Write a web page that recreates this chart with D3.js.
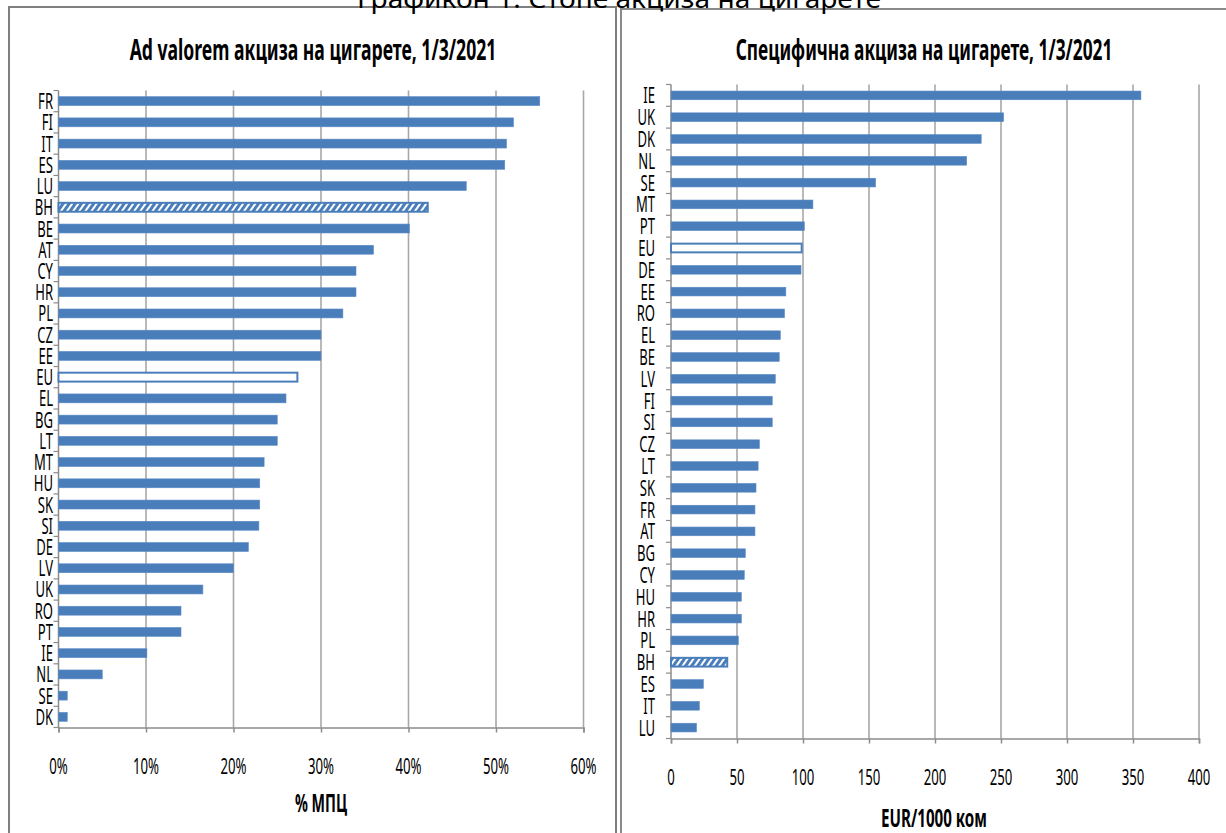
<!DOCTYPE html>
<html>
<head>
<meta charset="utf-8">
<script src="https://cdn.jsdelivr.net/npm/d3@7"></script>
<style>
  body { margin: 0; background: #fff; }
  svg { display: block; }
</style>
</head>
<body>
<div id="chart"></div>
<script>
// data
var leftCats = ["FR","FI","IT","ES","LU","BH","BE","AT","CY","HR","PL","CZ","EE","EU","EL",
                "BG","LT","MT","HU","SK","SI","DE","LV","UK","RO","PT","IE","NL","SE","DK"];
var leftVals = [55, 52, 51.2, 51, 46.6, 42.2, 40.1, 36, 34, 34, 32.5, 30, 30, 27.3, 26,
                25, 25, 23.5, 23, 23, 22.9, 21.7, 20, 16.5, 14, 14, 10.1, 5, 1, 1];
var leftTicks = [0, 10, 20, 30, 40, 50, 60];

var rightCats = ["IE","UK","DK","NL","SE","MT","PT","EU","DE","EE","RO","EL","BE","LV","FI",
                 "SI","CZ","LT","SK","FR","AT","BG","CY","HU","HR","PL","BH","ES","IT","LU"];
var rightVals = [356, 252, 235, 224, 155, 107.5, 101, 99, 98.5, 87, 86, 82.8, 82, 79, 76.7,
                 76.7, 67, 66, 64.4, 63.6, 63.6, 56.3, 55.5, 53.3, 53.3, 51, 42.6, 24.5, 21.5, 19.3];
var rightTicks = [0, 50, 100, 150, 200, 250, 300, 350, 400];

var caption = "Графикон 1: Стопе акциза на цигарете";
var leftTitle = "Ad valorem акциза на цигарете, 1/3/2021";
var rightTitle = "Специфична акциза на цигарете, 1/3/2021";
var leftAxisTitle = "% МПЦ";
var rightAxisTitle = "EUR/1000 ком";

var width = 1226, height = 833;
var blue = "#4a7ebb";
var font = "'Noto Sans', 'DejaVu Sans', sans-serif";

var svg = d3.select("#chart").append("svg")
    .attr("width", width)
    .attr("height", height);

// hatch for BH
var defs = svg.append("defs");
var pat = defs.append("pattern")
    .attr("id", "hatch")
    .attr("patternUnits", "userSpaceOnUse")
    .attr("width", 5).attr("height", 5)
    .attr("patternTransform", "rotate(35)");
pat.append("rect").attr("width", 5).attr("height", 5).attr("fill", blue);
pat.append("rect").attr("width", 2).attr("height", 5).attr("fill", "#fff");

// narrow text: the original font is very condensed
function label(parent, x, y, str, size, weight, anchor, sx, fitWidth) {
    var g = parent.append("g");
    var t = g.append("text")
        .attr("font-family", font)
        .attr("font-size", size)
        .attr("font-weight", weight)
        .attr("text-anchor", anchor)
        .attr("fill", "#000")
        .text(str);
    if (fitWidth) sx = fitWidth / t.node().getComputedTextLength();
    g.attr("transform", `translate(${x},${y}) scale(${sx},1)`);
    return g;
}

// panel frames
svg.append("rect").attr("x", 9).attr("y", 7).attr("width", 607).attr("height", 840)
    .attr("fill", "#fff").attr("stroke", "#7f7f7f").attr("stroke-width", 2);
svg.append("rect").attr("x", 621).attr("y", 9).attr("width", 620).attr("height", 840)
    .attr("fill", "#fff").attr("stroke", "#8a8a8a").attr("stroke-width", 2);

// caption (cut off at the top of the picture)
label(svg, 619, 8, caption, 26, "normal", "middle", 1, 524);

function drawPanel(cfg) {
    var x = d3.scaleLinear().domain(cfg.domain).range([cfg.x0, cfg.x1]);
    var y = d3.scaleBand().domain(cfg.cats).range([cfg.top, cfg.bottom])
        .paddingInner(cfg.pad).paddingOuter(cfg.pad / 2);
    var g = svg.append("g");

    // gridlines
    g.selectAll("line.grid").data(cfg.ticks.slice(1)).enter().append("line")
        .attr("x1", d => x(d)).attr("x2", d => x(d))
        .attr("y1", cfg.top).attr("y2", cfg.bottom)
        .attr("stroke", "#a8a8a8").attr("stroke-width", 1.6);

    // x axis
    var xAxis = d3.axisBottom(x).tickValues(cfg.ticks).tickFormat(cfg.fmt).tickSize(5);
    var ax = g.append("g").attr("transform", `translate(0,${cfg.bottom})`).call(xAxis);
    ax.select(".domain").attr("stroke", "#8c8c8c").attr("stroke-width", 1.5);
    ax.selectAll(".tick line").attr("stroke", "#8c8c8c").attr("stroke-width", 1.5);
    ax.selectAll(".tick text").remove();
    cfg.ticks.forEach(function(t) {
        label(g, x(t), cfg.tickY, cfg.fmt(t), 22, "normal", "middle", 0.6);
    });

    // y axis line and ticks at category boundaries
    g.append("line").attr("x1", x(0)).attr("x2", x(0))
        .attr("y1", cfg.top).attr("y2", cfg.bottom)
        .attr("stroke", "#8c8c8c").attr("stroke-width", 1.5);
    var bounds = d3.range(cfg.cats.length + 1).map(i => cfg.top + i * y.step());
    g.selectAll("line.ytick").data(bounds).enter().append("line")
        .attr("x1", x(0) - 5).attr("x2", x(0))
        .attr("y1", d => d).attr("y2", d => d)
        .attr("stroke", "#8c8c8c").attr("stroke-width", 1.2);

    cfg.cats.forEach(function(c) {
        label(g, cfg.labelX, y(c) + y.bandwidth() / 2 + 8, c, 22.5, "normal", "end", 0.58);
    });

    // bars
    var data = cfg.cats.map((c, i) => ({ cat: c, val: cfg.vals[i] }));
    g.selectAll("rect.bar").data(data).enter().append("rect")
        .attr("x", x(0))
        .attr("y", d => y(d.cat))
        .attr("width", d => x(d.val) - x(0))
        .attr("height", y.bandwidth())
        .attr("fill", d => d.cat === "EU" ? "#fff" : d.cat === "BH" ? "url(#hatch)" : blue)
        .attr("stroke", d => (d.cat === "EU" || d.cat === "BH") ? blue : "#5b8bc6")
        .attr("stroke-width", d => (d.cat === "EU" || d.cat === "BH") ? 2 : 0.6);

    // titles
    label(svg, cfg.titleX, cfg.titleY, cfg.title, 29, "bold", "middle", 1, cfg.titleW);
    label(svg, cfg.axisTitleX, cfg.axisTitleY, cfg.axisTitle, 25, "bold", "middle", 1, cfg.axisTitleW);
}

drawPanel({
    cats: leftCats, vals: leftVals, ticks: leftTicks, domain: [0, 60],
    fmt: d => d + "%",
    x0: 58.5, x1: 583.5, top: 90.5, bottom: 727.5, pad: 0.58,
    labelX: 53, tickY: 774,
    title: leftTitle, titleX: 313, titleY: 60, titleW: 367,
    axisTitle: leftAxisTitle, axisTitleX: 321, axisTitleY: 812, axisTitleW: 52
});

drawPanel({
    cats: rightCats, vals: rightVals, ticks: rightTicks, domain: [0, 400],
    fmt: d => String(d),
    x0: 671, x1: 1199, top: 84.5, bottom: 738.5, pad: 0.6,
    labelX: 655, tickY: 785,
    title: rightTitle, titleX: 924, titleY: 60, titleW: 377,
    axisTitle: rightAxisTitle, axisTitleX: 934, axisTitleY: 827, axisTitleW: 106
});
</script>
</body>
</html>
